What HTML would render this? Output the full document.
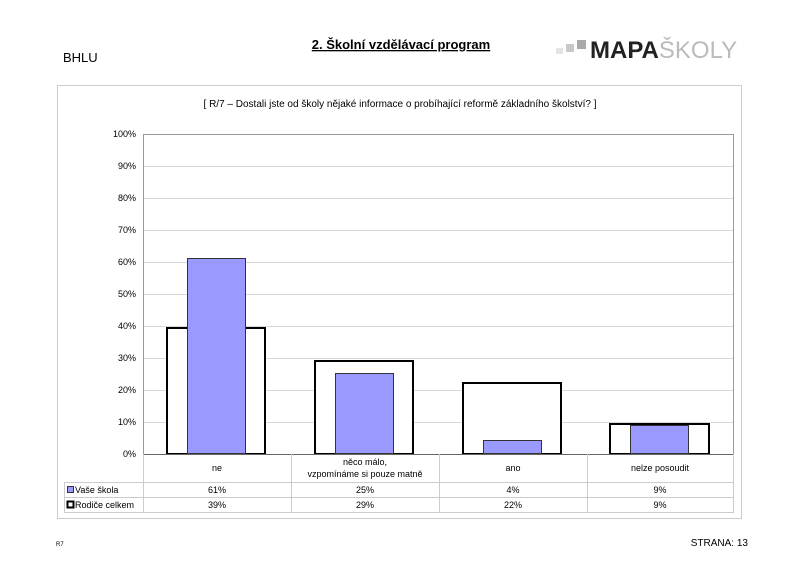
<!DOCTYPE html>
<html><head><meta charset="utf-8"><style>
body{margin:0;width:800px;height:565px;background:#fff;font-family:"Liberation Sans",sans-serif;overflow:hidden}
</style></head><body>
<svg width="800" height="565" xmlns="http://www.w3.org/2000/svg" font-family="Liberation Sans, sans-serif">
<text x="63" y="62" font-size="13">BHLU</text>
<text x="401" y="49" font-size="13" font-weight="bold" text-anchor="middle" text-decoration="underline">2. Školní vzdělávací program</text>
<rect x="556" y="48" width="7" height="6" fill="#e4e4e4"/><rect x="566" y="44" width="8" height="8" fill="#c8c8c8"/><rect x="577" y="40" width="9" height="9" fill="#aaa"/>
<text x="590" y="58" font-size="24" font-weight="bold" fill="#222">MAPA<tspan font-weight="normal" fill="#bbb">ŠKOLY</tspan></text>
<rect x="57.5" y="85.5" width="684" height="433" fill="#fff" stroke="#ccc"/>
<text x="400" y="107" font-size="10" text-anchor="middle">[ R/7 – Dostali jste od školy nějaké informace o probíhající reformě základního školství? ]</text>
<g stroke="#d8d8d8" stroke-width="1">
<line x1="143" y1="134.5" x2="734" y2="134.5"/><line x1="143" y1="166.5" x2="734" y2="166.5"/><line x1="143" y1="198.5" x2="734" y2="198.5"/><line x1="143" y1="230.5" x2="734" y2="230.5"/><line x1="143" y1="262.5" x2="734" y2="262.5"/><line x1="143" y1="294.5" x2="734" y2="294.5"/><line x1="143" y1="326.5" x2="734" y2="326.5"/><line x1="143" y1="358.5" x2="734" y2="358.5"/><line x1="143" y1="390.5" x2="734" y2="390.5"/><line x1="143" y1="422.5" x2="734" y2="422.5"/>
</g>
<rect x="143.5" y="134.5" width="590" height="320" fill="none" stroke="#999"/>
<g font-size="9" text-anchor="end">
<text x="136" y="137">100%</text><text x="136" y="169">90%</text><text x="136" y="201">80%</text><text x="136" y="233">70%</text><text x="136" y="265">60%</text><text x="136" y="297">50%</text><text x="136" y="329">40%</text><text x="136" y="361">30%</text><text x="136" y="393">20%</text><text x="136" y="425">10%</text><text x="136" y="457">0%</text>
</g>
<g stroke="#000" stroke-width="2" fill="#fff">
<rect x="167" y="328" width="98" height="126"/>
<rect x="315" y="361" width="98" height="93"/>
<rect x="463" y="383" width="98" height="71"/>
<rect x="610" y="424" width="99" height="30"/>
</g>
<g fill="#9999ff" stroke="#333" stroke-width="1">
<rect x="187.5" y="258.5" width="58" height="195"/>
<rect x="335.5" y="373.5" width="58" height="80"/>
<rect x="483.5" y="440.5" width="58" height="13"/>
<rect x="630.5" y="425.5" width="58" height="28"/>
</g>
<line x1="143" y1="454.5" x2="734" y2="454.5" stroke="#666"/>
<g stroke="#ccc" fill="none">
<line x1="64" y1="482.5" x2="734" y2="482.5"/><line x1="64" y1="497.5" x2="734" y2="497.5"/><line x1="64" y1="512.5" x2="734" y2="512.5"/>
<line x1="64.5" y1="482" x2="64.5" y2="512"/><line x1="143.5" y1="454" x2="143.5" y2="512"/><line x1="291.5" y1="454" x2="291.5" y2="512"/><line x1="439.5" y1="454" x2="439.5" y2="512"/><line x1="587.5" y1="454" x2="587.5" y2="512"/><line x1="733.5" y1="454" x2="733.5" y2="512"/>
</g>
<g font-size="9" text-anchor="middle">
<text x="217" y="471">ne</text>
<text x="365" y="465">něco málo,</text><text x="365" y="477">vzpomínáme si pouze matně</text>
<text x="513" y="471">ano</text><text x="660" y="471">nelze posoudit</text>
<text x="217" y="493">61%</text><text x="365" y="493">25%</text><text x="513" y="493">4%</text><text x="660" y="493">9%</text>
<text x="217" y="508">39%</text><text x="365" y="508">29%</text><text x="513" y="508">22%</text><text x="660" y="508">9%</text>
</g>
<rect x="67.5" y="486.5" width="6" height="6" fill="#9999ff" stroke="#333"/>
<text x="75" y="493" font-size="9">Vaše škola</text>
<rect x="67.5" y="501.5" width="6" height="6" fill="#fff" stroke="#000" stroke-width="2"/>
<text x="75" y="508" font-size="9">Rodiče celkem</text>
<text x="56" y="546" font-size="6">R7</text>
<text x="748" y="546" font-size="10" text-anchor="end">STRANA: 13</text>
</svg>
</body></html>
